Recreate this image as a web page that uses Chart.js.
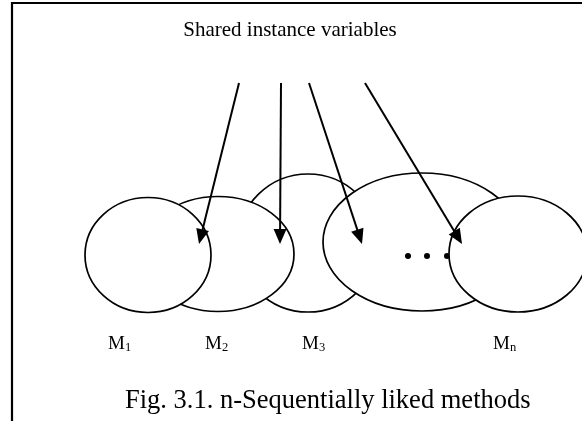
<!DOCTYPE html>
<html><head><meta charset="utf-8">
<script src="https://cdn.jsdelivr.net/npm/chart.js@4/dist/chart.umd.min.js"></script>
<style>html,body{margin:0;padding:0;background:#fff}#wrap{width:582px;height:421px;position:relative}</style>
</head><body><div id="wrap"><canvas id="c"></canvas></div>
<script>
// Diagram content (values in diagram units: x 0..582, y 0..421 downward)
const titleText = 'Shared instance variables';
const captionText = 'Fig. 3.1. n-Sequentially liked methods';
const methodNames = ['M', 'M', 'M', 'M'];
const methodSubs = ['1', '2', '3', 'n'];
const methodLabelX = [108, 205, 302, 493];
const methodLabelY = [349, 349, 349, 349];
// ellipses in drawing order: M3, M2, M1, big, Mn
const ellipseCX = [308, 218, 148, 422, 518];
const ellipseCY = [243, 254, 255, 242, 254];
const ellipseRX = [70, 76, 63, 99, 69];
const ellipseRY = [69, 57.5, 57.5, 69, 58];
const arrowFromX = [239, 281, 309, 365];
const arrowFromY = [83, 83, 83, 83];
const arrowToX = [199, 280, 362, 462];
const arrowToY = [244, 244, 244, 244];
const dotX = [408, 427, 447];
const dotY = [256, 256, 256];
const frameX = [12, 12, 582];
const frameY = [421, 3, 3];

const FONT = '"Liberation Serif", "Times New Roman", serif';

const diagramPlugin = {
  id: 'diagram',
  beforeDatasetsDraw(chart) {
    const ctx = chart.ctx, xs = chart.scales.x, ys = chart.scales.y;
    const px = v => xs.getPixelForValue(v), py = v => ys.getPixelForValue(v);
    const drawEllipse = i => {
      const cx = px(ellipseCX[i]), cy = py(ellipseCY[i]);
      const rx = Math.abs(px(ellipseCX[i] + ellipseRX[i]) - cx);
      const ry = Math.abs(py(ellipseCY[i] + ellipseRY[i]) - cy);
      ctx.beginPath();
      ctx.ellipse(cx, cy, rx, ry, 0, 0, Math.PI * 2);
      ctx.fillStyle = '#fff';
      ctx.fill();
      ctx.lineWidth = 1.7;
      ctx.strokeStyle = '#000';
      ctx.stroke();
    };
    ctx.save();
    for (let i = 0; i < ellipseCX.length - 1; i++) drawEllipse(i);
    for (let i = 0; i < dotX.length; i++) {
      ctx.beginPath();
      ctx.arc(px(dotX[i]), py(dotY[i]), 3, 0, Math.PI * 2);
      ctx.fillStyle = '#000';
      ctx.fill();
    }
    drawEllipse(ellipseCX.length - 1);
    ctx.restore();
  },
  afterDatasetsDraw(chart) {
    const ctx = chart.ctx, xs = chart.scales.x, ys = chart.scales.y;
    const px = v => xs.getPixelForValue(v), py = v => ys.getPixelForValue(v);
    ctx.save();
    // arrowheads
    for (let i = 0; i < arrowToX.length; i++) {
      const x0 = px(arrowFromX[i]), y0 = py(arrowFromY[i]);
      const x1 = px(arrowToX[i]), y1 = py(arrowToY[i]);
      const a = Math.atan2(y1 - y0, x1 - x0);
      const L = 15, W = 6.5;
      const bx = x1 - L * Math.cos(a), by = y1 - L * Math.sin(a);
      ctx.beginPath();
      ctx.moveTo(x1, y1);
      ctx.lineTo(bx + W * Math.sin(a), by - W * Math.cos(a));
      ctx.lineTo(bx - W * Math.sin(a), by + W * Math.cos(a));
      ctx.closePath();
      ctx.fillStyle = '#000';
      ctx.fill();
    }
    // texts
    ctx.fillStyle = '#000';
    ctx.textBaseline = 'alphabetic';
    ctx.textAlign = 'center';
    ctx.font = '21px ' + FONT;
    ctx.fillText(titleText, px(290), py(36));
    ctx.textAlign = 'left';
    ctx.font = '26.5px ' + FONT;
    ctx.fillText(captionText, px(125), py(408));
    for (let i = 0; i < methodNames.length; i++) {
      ctx.font = '19px ' + FONT;
      const x = px(methodLabelX[i]), y = py(methodLabelY[i]);
      ctx.fillText(methodNames[i], x, y);
      const w = ctx.measureText(methodNames[i]).width;
      ctx.font = '12.5px ' + FONT;
      ctx.fillText(methodSubs[i], x + w, y + 2);
    }
    ctx.restore();
  }
};

const arrowDatasets = arrowFromX.map((_, i) => {
  const dx = arrowToX[i] - arrowFromX[i], dy = arrowToY[i] - arrowFromY[i];
  const len = Math.hypot(dx, dy), k = (len - 12) / len;
  return {
    data: [{ x: arrowFromX[i], y: arrowFromY[i] }, { x: arrowFromX[i] + dx * k, y: arrowFromY[i] + dy * k }],
    showLine: true, borderColor: '#000', borderWidth: 2, pointRadius: 0, fill: false
  };
});

new Chart(document.getElementById('c'), {
  type: 'scatter',
  data: {
    datasets: [
      { data: frameX.map((x, i) => ({ x, y: frameY[i] })), showLine: true, borderColor: '#000', borderWidth: 2.2, pointRadius: 0, fill: false, clip: false },
      ...arrowDatasets
    ]
  },
  options: {
    responsive: true, maintainAspectRatio: false, animation: false,
    layout: { padding: 0 },
    plugins: { legend: { display: false }, tooltip: { enabled: false }, title: { display: false } },
    scales: {
      x: { type: 'linear', min: 0, max: 582, display: false },
      y: { type: 'linear', min: 0, max: 421, reverse: true, display: false }
    }
  },
  plugins: [diagramPlugin]
});
</script>
</body></html>
